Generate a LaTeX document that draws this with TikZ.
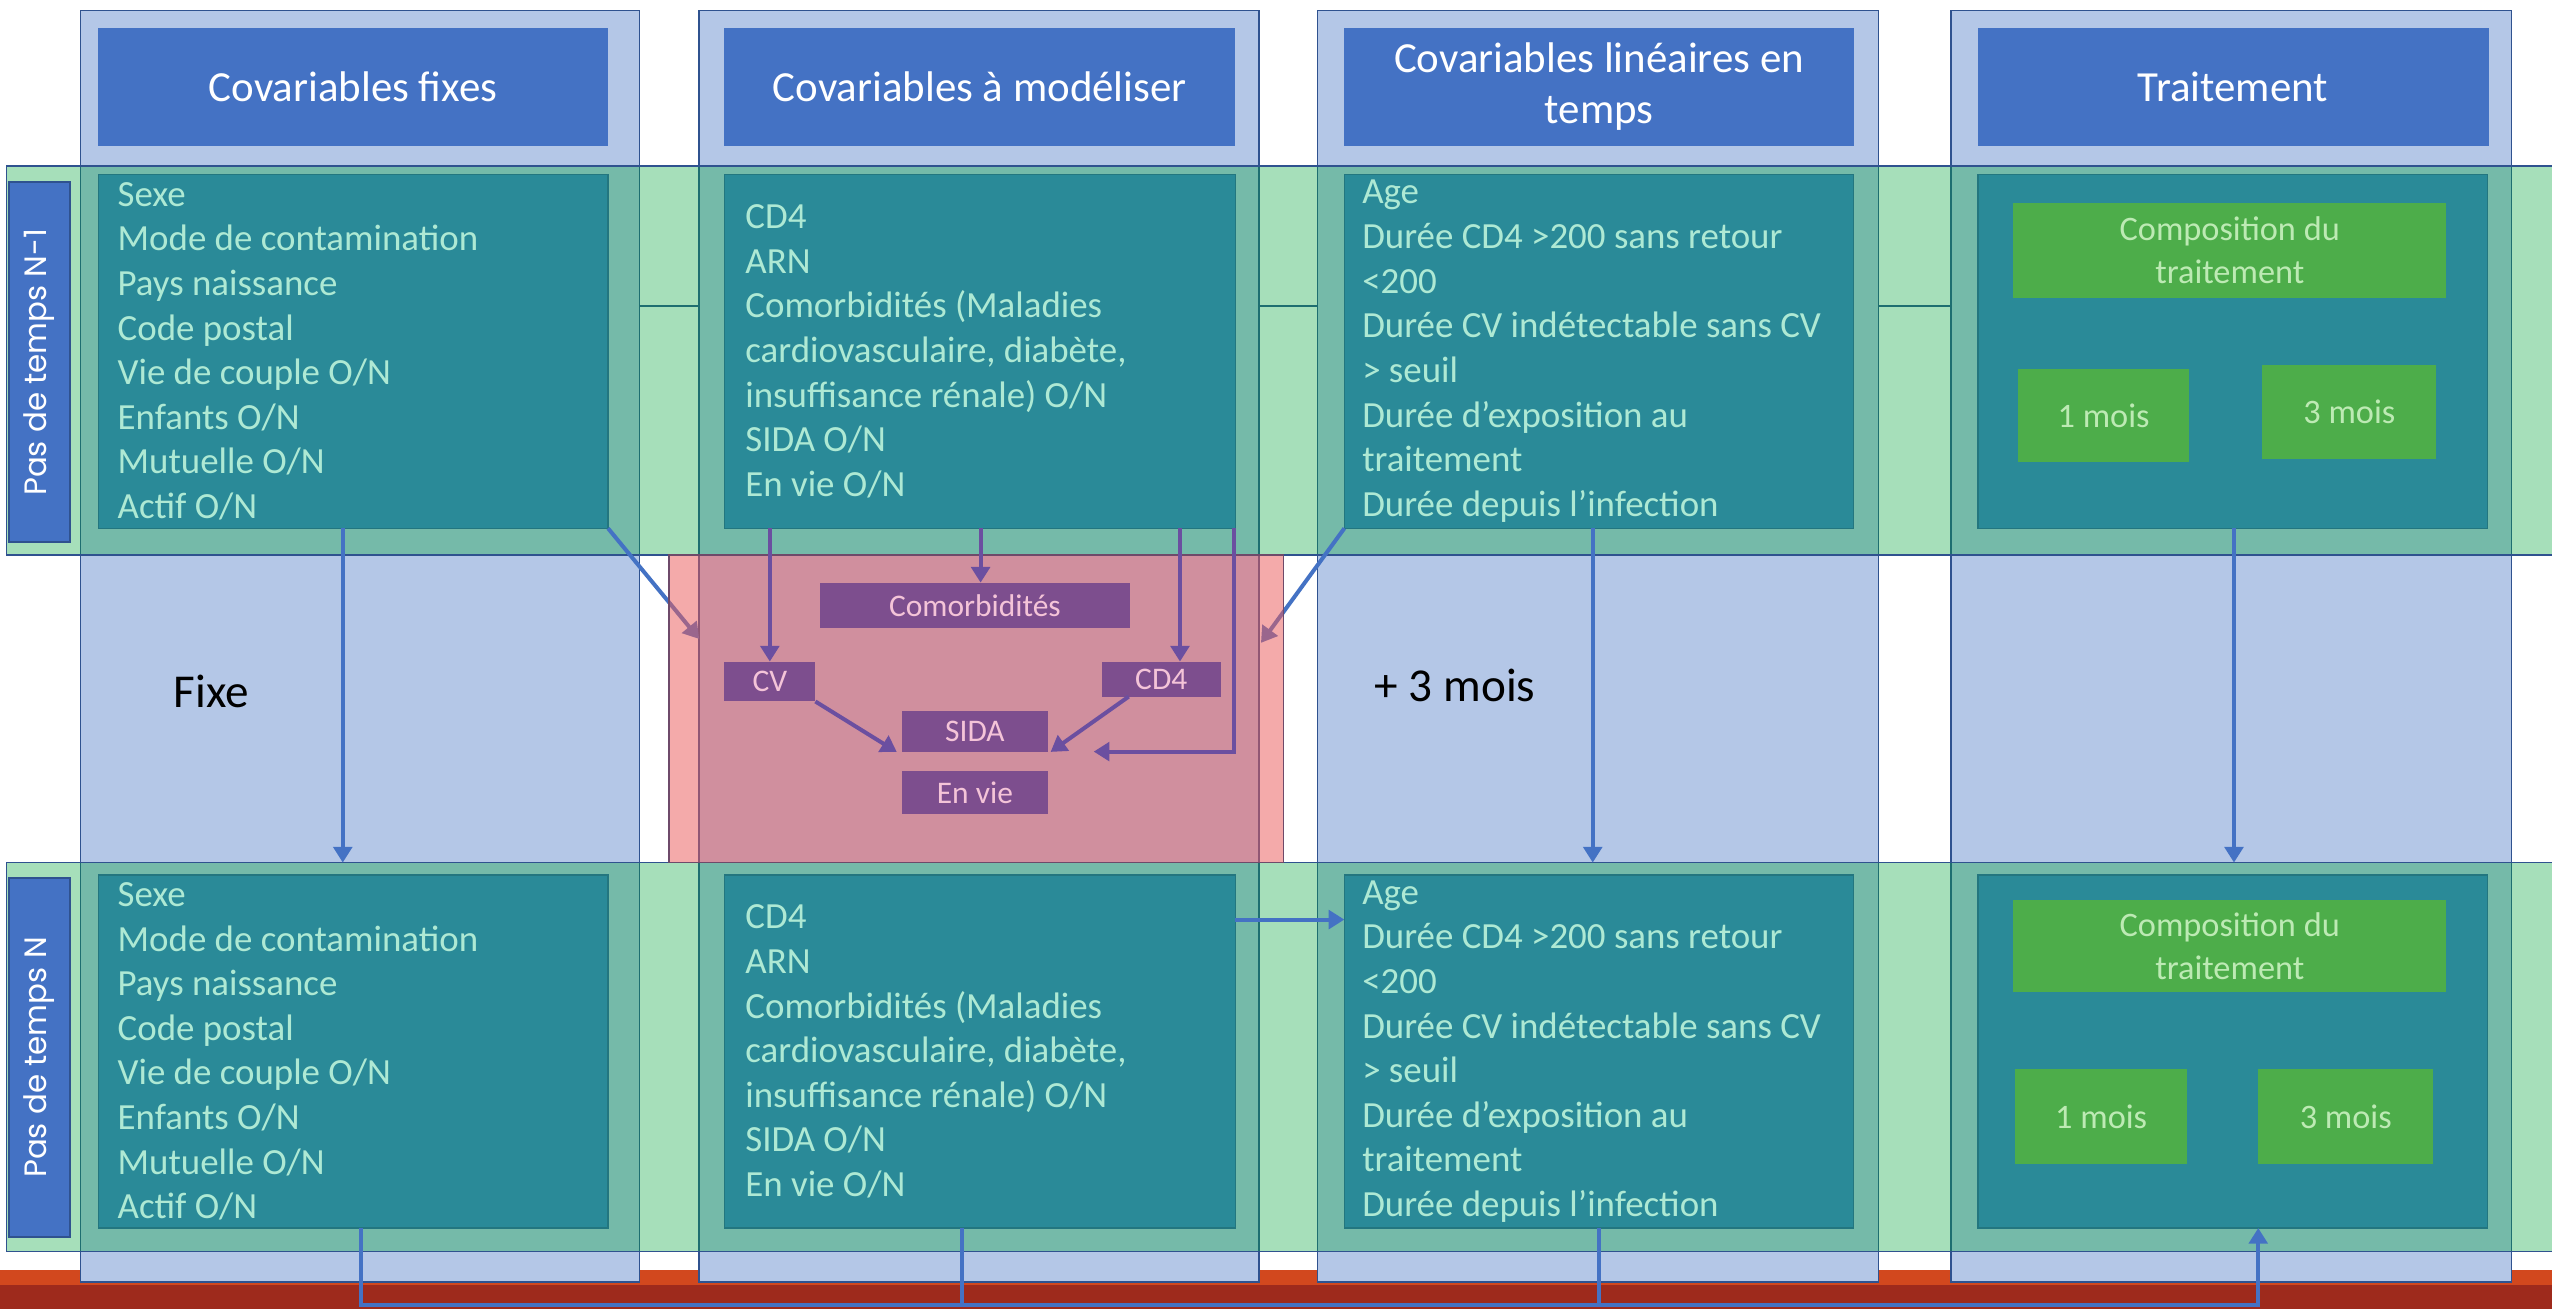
\documentclass[tikz,border=0pt]{standalone}
\usepackage{fontspec}
\setmainfont{Carlito}
\newfontfamily\labfont{Poppins}
\usetikzlibrary{fit,arrows.meta}
\definecolor{colfill}{HTML}{B4C7E7}
\definecolor{darkblue}{HTML}{2F528F}
\definecolor{hdrblue}{HTML}{4472C4}
\definecolor{bandgreen}{HTML}{00A338}
\definecolor{tealbox}{HTML}{2A8A98}
\definecolor{tealedge}{HTML}{23767F}
\definecolor{bodytext}{HTML}{AEE9D4}
\definecolor{pinkfill}{HTML}{EA5C5C}
\definecolor{pinkedge}{HTML}{6E4A6A}
\definecolor{purplebox}{HTML}{7D4E8E}
\definecolor{purpletext}{HTML}{F4C4D8}
\definecolor{greenbox}{HTML}{4DAD4A}
\definecolor{greentext}{HTML}{BDEAB4}
\definecolor{arrowblue}{HTML}{4472C4}
\definecolor{arrowpurple}{HTML}{6B4FA0}
\definecolor{orangeband}{HTML}{D2481E}
\definecolor{redband}{HTML}{9E2A1C}
\begin{document}
\begin{tikzpicture}[x=0.02cm,y=-0.02cm,
  every node/.style={inner sep=0pt, outer sep=0pt},
  colbox/.style={draw=darkblue, line width=0.5pt, fill=colfill},
  bandbox/.style={draw=darkblue, line width=0.6pt, fill=bandgreen, fill opacity=0.35},
  hdr/.style={fill=hdrblue},
  hdrtext/.style={text=white, font=\fontsize{15}{18}\selectfont, align=center},
  tealbx/.style={fill=tealbox, draw=tealedge, line width=0.4pt},
  body/.style={text=bodytext, font=\fontsize{12.9}{15.6}\selectfont, align=left, anchor=west},
  rowlab/.style={fill=hdrblue, draw=darkblue, line width=0.6pt},
  labtext/.style={rotate=90, text=white, font=\labfont\fontsize{10.8}{13}\selectfont},
  gbox/.style={fill=greenbox},
  gtext/.style={text=greentext, font=\fontsize{12}{15}\selectfont, align=center},
  pinkbx/.style={fill=pinkfill, fill opacity=0.52, draw=pinkedge, line width=0.5pt},
  pbox/.style={fill=purplebox},
  ptext/.style={text=purpletext, font=\fontsize{11}{13}\selectfont},
  bigtext/.style={text=black, font=\fontsize{16.5}{19}\selectfont},
  arr/.style={draw=arrowblue, line width=1.4pt, -{Triangle[length=5.5pt,width=6.5pt]}},
  arrp/.style={draw=arrowpurple, line width=1.4pt, -{Triangle[length=5.5pt,width=6.5pt]}},
  link/.style={draw=arrowblue, line width=1.4pt}
]
\useasboundingbox (0,0) rectangle (1568,804);
% bottom bands
\fill[orangeband] (0,780) rectangle (1568,789.5);
\fill[redband] (0,789.5) rectangle (1568,804);
% faint separator line (visible in gaps)
\draw[darkblue, line width=0.5pt] (393,188) -- (1198,188);
% columns
\node[colbox, fit={(49.3,6.6) (392.8,787.6)}] (col1) {};
\node[colbox, fit={(429.6,6.6) (773.5,787.6)}] (col2) {};
\node[colbox, fit={(809.5,6.6) (1154,787.6)}] (col3) {};
\node[colbox, fit={(1198.7,6.6) (1543,787.6)}] (col4) {};
% time-step bands
\node[bandbox, fit={(4,102) (1580,341)}] (band1) {};
\node[bandbox, fit={(4,530) (1580,769)}] (band2) {};
% headers
\node[hdr, fit={(60.3,17) (373.6,89.5)}] (h1) {};
\node[hdr, fit={(445,17) (759,89.5)}] (h2) {};
\node[hdr, fit={(826,17) (1139,89.5)}] (h3) {};
\node[hdr, fit={(1215,17) (1529,89.5)}] (h4) {};
\node[hdrtext] (h1t) at (h1.center) {Covariables fixes};
\node[hdrtext] (h2t) at (h2.center) {Covariables à modéliser};
\node[hdrtext] (h3t) at (h3.center) {Covariables linéaires en\\temps};
\node[hdrtext] (h4t) at (h4.center) {Traitement};
% row labels
\node[rowlab, fit={(5.5,112) (43,333)}] (lab1) {};
\node[rowlab, fit={(5.5,539.5) (43,760)}] (lab2) {};
\node[labtext] (lab1t) at (lab1.center) {Pas de temps N-1};
\node[labtext] (lab2t) at (lab2.center) {Pas de temps N};
% teal boxes
\node[tealbx, fit={(60.3,107) (373.6,324.6)}] (t11) {};
\node[tealbx, fit={(445,107) (759,324.6)}] (t12) {};
\node[tealbx, fit={(826,107) (1139,324.6)}] (t13) {};
\node[tealbx, fit={(1215.3,107) (1528.6,324.6)}] (t14) {};
\node[tealbx, fit={(60.3,537.6) (373.6,754.5)}] (t21) {};
\node[tealbx, fit={(445,537.6) (759,754.5)}] (t22) {};
\node[tealbx, fit={(826,537.6) (1139,754.5)}] (t23) {};
\node[tealbx, fit={(1215.3,537.6) (1528.6,754.5)}] (t24) {};
% body texts
\node[body] (x11) at ([xshift=0.24cm]t11.west) {Sexe\\Mode de contamination\\Pays naissance\\Code postal\\Vie de couple O/N\\Enfants O/N\\Mutuelle O/N\\Actif O/N};
\node[body] (x21) at ([xshift=0.24cm]t21.west) {Sexe\\Mode de contamination\\Pays naissance\\Code postal\\Vie de couple O/N\\Enfants O/N\\Mutuelle O/N\\Actif O/N};
\node[body] (x12) at ([xshift=0.26cm]t12.west) {CD4\\ARN\\Comorbidités (Maladies\\cardiovasculaire, diabète,\\insuffisance rénale) O/N\\SIDA O/N\\En vie O/N};
\node[body] (x22) at ([xshift=0.26cm]t22.west) {CD4\\ARN\\Comorbidités (Maladies\\cardiovasculaire, diabète,\\insuffisance rénale) O/N\\SIDA O/N\\En vie O/N};
\node[body] (x13) at ([xshift=0.22cm]t13.west) {Age\\Durée CD4 >200 sans retour\\<200\\Durée CV indétectable sans CV\\> seuil\\Durée d’exposition au\\traitement\\Durée depuis l’infection};
\node[body] (x23) at ([xshift=0.22cm]t23.west) {Age\\Durée CD4 >200 sans retour\\<200\\Durée CV indétectable sans CV\\> seuil\\Durée d’exposition au\\traitement\\Durée depuis l’infection};
% treatment boxes
\node[gbox, fit={(1237,125) (1503,183)}] (comp1) {};
\node[gbox, fit={(1240,227) (1345,284)}] (m11) {};
\node[gbox, fit={(1390,224) (1497,282)}] (m31) {};
\node[gbox, fit={(1237,553) (1503,609.5)}] (comp2) {};
\node[gbox, fit={(1238,657) (1344,715)}] (m12) {};
\node[gbox, fit={(1387.5,657) (1495,715)}] (m32) {};
\node[gtext] (comp1t) at (comp1.center) {Composition du\\traitement};
\node[gtext] (m11t) at (m11.center) {1 mois};
\node[gtext] (m31t) at (m31.center) {3 mois};
\node[gtext] (comp2t) at (comp2.center) {Composition du\\traitement};
\node[gtext] (m12t) at (m12.center) {1 mois};
\node[gtext] (m32t) at (m32.center) {3 mois};
% free-end coordinates
\coordinate (c1x) at (210.6,0);
\coordinate (c3x) at (978.6,0);
\coordinate (c4x) at (1372.6,0);
\coordinate (dyl) at (0,392.6);
\coordinate (dyr) at (0,395);
\coordinate (r2y) at (0,565);
\coordinate (boty) at (0,802);
\coordinate (b1) at (221.6,0);
\coordinate (b2) at (591,0);
\coordinate (b3) at (982.5,0);
\coordinate (b4) at (1387.5,0);
\coordinate (c2a) at (473,0);
\coordinate (c2b) at (602.5,0);
\coordinate (c2c) at (725,0);
\coordinate (c2d) at (758,0);
\coordinate (etip) at (672,461.8);
\coordinate (c4s) at (693.5,0);
% blue arrows
\draw[arr] (t11.south -| c1x) -- (band2.north -| c1x);
\draw[arr] (t13.south -| c3x) -- (band2.north -| c3x);
\draw[arr] (t14.south -| c4x) -- (band2.north -| c4x);
\draw[arr] (t11.south east) -- (col2.west |- dyl);
\draw[arr] (t13.south west) -- ([xshift=0.025cm]col2.east |- dyr);
\draw[arr] (t22.east |- r2y) -- (t23.west |- r2y);
\draw[link] (t22.south -| b2) -- (b2 |- boty);
\draw[link] (t23.south -| b3) -- (b3 |- boty);
\draw[arr] (t21.south -| b1) -- (b1 |- boty) -- (b4 |- boty) -- (t24.south -| b4);
% modelling area
\node[pinkbx, fit={(411,341) (788.5,530)}] (pink) {};
\node[pbox, fit={(504,358) (694,386)}] (comorb) {};
\node[pbox, fit={(445,406.5) (501,431)}] (cv) {};
\node[pbox, fit={(677,406.5) (750,428)}] (cd4) {};
\node[pbox, fit={(554,437) (644,462)}] (sida) {};
\node[pbox, fit={(554,474) (644,500)}] (envie) {};
\node[ptext] (comorbt) at (comorb.center) {Comorbidités};
\node[ptext] (cvt) at (cv.center) {CV};
\node[ptext] (cd4t) at (cd4.center) {CD4};
\node[ptext] (sidat) at (sida.center) {SIDA};
\node[ptext] (noviet) at (envie.center) {En vie};
\draw[arrp] (t12.south -| c2a) -- (cv.north -| c2a);
\draw[arrp] (t12.south -| c2b) -- (comorb.north -| c2b);
\draw[arrp] (t12.south -| c2c) -- (cd4.north -| c2c);
\draw[arrp] (t12.south -| c2d) |- (etip);
\draw[arrp] (cv.south east) -- ([xshift=-0.06cm]sida.south west);
\draw[arrp] (cd4.south -| c4s) -- ([xshift=0.03cm]sida.south east);
% middle labels
\node[bigtext] (fixe) at (130,425) {Fixe};
\node[bigtext] (plus3) at (894,421) {+ 3 mois};
\end{tikzpicture}
\end{document}
